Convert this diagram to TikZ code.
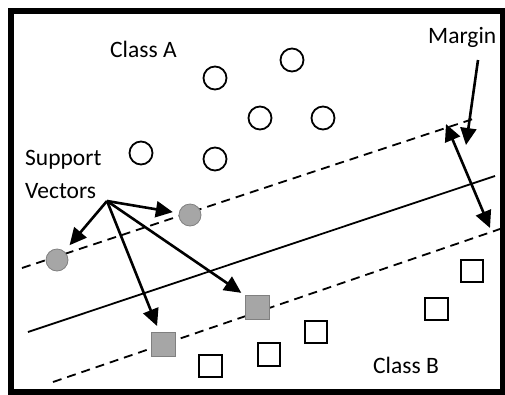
\documentclass[tikz,border=0pt]{standalone}
\usepackage{fontspec}
\setmainfont{Carlito}
\usetikzlibrary{arrows.meta,calc}
\definecolor{svfill}{RGB}{166,166,166}
\definecolor{svedge}{RGB}{128,128,128}
\tikzset{
  lbl/.style={inner sep=0pt, anchor=base west, font=\fontsize{23.5}{33}\selectfont},
  classA/.style={circle, draw=black, line width=1.8pt, minimum size=23pt, inner sep=0pt},
  classB/.style={rectangle, draw=black, line width=1.8pt, minimum size=22.5pt, inner sep=0pt},
  svA/.style={circle, fill=svfill, draw=svedge, line width=0.8pt, minimum size=22pt, inner sep=0pt},
  svB/.style={rectangle, fill=svfill, draw=svedge, line width=0.8pt, minimum size=24pt, inner sep=0pt},
  boundary/.style={line width=1.8pt},
  marginline/.style={line width=1.8pt, dash pattern=on 9pt off 6pt},
  pointer/.style={line width=2.6pt, -{Triangle[length=17pt,width=16pt]}},
  twoway/.style={line width=2.6pt, {Triangle[length=17pt,width=16pt]}-{Triangle[length=17pt,width=16pt]}},
}
\begin{document}
\begin{tikzpicture}[x=1pt, y=-1pt]
\useasboundingbox (0,0) rectangle (505,394);
% outer frame
\draw[line width=6pt] (11,11) rectangle (503,392);

% hyperplane and margin boundaries
\coordinate (t1) at (22,268);  \coordinate (t2) at (476,118);
\coordinate (h1) at (28,332);  \coordinate (h2) at (495,176);
\coordinate (b1) at (53,382);  \coordinate (b2) at (500,229);
\draw[marginline] (t1) -- (t2);
\draw[boundary] (h1) -- (h2);
\draw[marginline] (b1) -- (b2);

% class A points
\node[classA] (a1) at (215,78) {};
\node[classA] (a2) at (292,60) {};
\node[classA] (a3) at (260,118) {};
\node[classA] (a4) at (323,118) {};
\node[classA] (a5) at (141,153) {};
\node[classA] (a6) at (215,159) {};

% class B points
\node[classB] (b1n) at (210.5,366) {};
\node[classB] (b2n) at (269,354.5) {};
\node[classB] (b3n) at (316,332) {};
\node[classB] (b4n) at (436.5,309) {};
\node[classB] (b5n) at (472,271) {};

% support vectors
\node[svA] (s1) at (190,215) {};
\node[svA] (s2) at (57,260) {};
\node[svB] (s3) at (257,307.5) {};
\node[svB] (s4) at (163,344) {};

% labels
\node[lbl] (la) at (110,57) {Class A};
\node[lbl] (lb) at (373,373) {Class B};
\node[lbl] (lm) at (428,43) {Margin};
\node[lbl] (ls1) at (25,165) {Support};
\node[lbl] (ls2) at (25,198) {Vectors};

% support vector pointers
\coordinate (sv) at (107,201);
\draw[pointer, shorten >=6pt] (sv) -- (s1);
\draw[pointer, shorten >=8pt] (sv) -- (s2);
\draw[pointer, shorten >=4pt] (sv) -- (s3.north west);
\draw[pointer, shorten >=6pt] (sv) -- ($(s4.north west)!0.35!(s4.north east)$);

% margin pointers
\coordinate (mt) at (478,60);
\coordinate (mh) at (466,145);
\draw[pointer] (mt) -- (mh);
\coordinate (m1) at (446,124);
\coordinate (m2) at (490,228);
\draw[twoway] (m1) -- (m2);
\end{tikzpicture}
\end{document}
